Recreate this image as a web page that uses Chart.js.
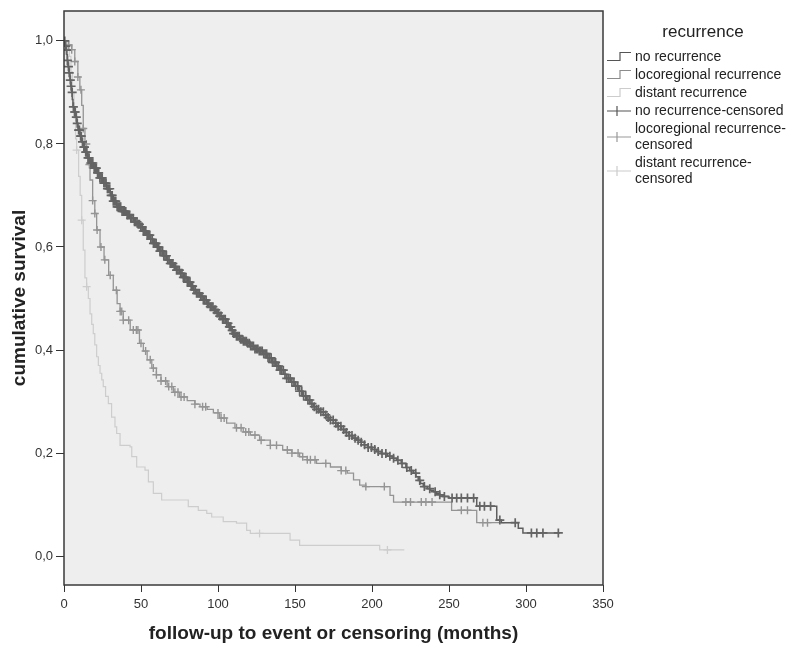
<!DOCTYPE html>
<html>
<head>
<meta charset="utf-8">
<title>cumulative survival by recurrence</title>
<script src="https://cdn.jsdelivr.net/npm/chart.js@4.4.1/dist/chart.umd.min.js"></script>
<style>
  html, body { margin: 0; padding: 0; background: #fff; }
  #chart { display: block; }
</style>
</head>
<body>
<canvas id="chart" width="790" height="648"></canvas>
<script>
// Kaplan-Meier steps: time (months) and survival after the drop at that time
const noRecTimes = [0, 0.6, 1.2, 1.8, 2.2, 2.6, 3.2, 3.9, 4.4, 5, 5.4, 5.8, 6.7, 7.6, 8.3, 9.1, 10.3, 11.5, 12.5, 13.6, 15.2, 16.9, 19, 21.2, 23.3, 25.5, 27.7, 30, 32, 34.2, 37, 40.7, 43, 45.5, 47.5, 49.4, 51.5, 53.5, 56, 58, 60, 62, 64.5, 66.7, 69, 71, 73, 75.3, 77.5, 80, 82, 84, 86, 88.3, 90.5, 93, 95, 97, 99, 101, 103, 105, 107, 108.5, 110, 112, 114, 116, 118.6, 121, 124, 126.5, 129.4, 132, 135, 137.5, 140.3, 142.5, 144.6, 147, 150, 152.5, 155, 157.5, 159.7, 162, 164, 166, 168.5, 170.5, 172.7, 175, 177.5, 180, 182.5, 185, 187.5, 190, 192.5, 195, 197.5, 200, 203, 206, 210, 213, 216, 219, 222, 224.5, 226.8, 228.5, 230, 231.5, 233.3, 236, 238, 240, 242, 244, 246, 250, 268, 281, 284, 295, 298, 322];
const noRecSurv = [1.0, 0.99, 0.982, 0.973, 0.962, 0.95, 0.938, 0.924, 0.912, 0.9, 0.886, 0.872, 0.862, 0.852, 0.84, 0.827, 0.815, 0.804, 0.794, 0.784, 0.773, 0.763, 0.753, 0.744, 0.734, 0.724, 0.713, 0.7, 0.689, 0.678, 0.669, 0.662, 0.656, 0.649, 0.644, 0.639, 0.631, 0.623, 0.615, 0.607, 0.6, 0.592, 0.583, 0.575, 0.568, 0.562, 0.555, 0.549, 0.541, 0.532, 0.524, 0.517, 0.51, 0.504, 0.497, 0.49, 0.484, 0.478, 0.472, 0.466, 0.46, 0.452, 0.445, 0.438, 0.432, 0.427, 0.421, 0.417, 0.413, 0.408, 0.402, 0.398, 0.393, 0.385, 0.376, 0.369, 0.361, 0.353, 0.345, 0.338, 0.33, 0.32, 0.311, 0.303, 0.296, 0.29, 0.285, 0.28, 0.274, 0.269, 0.264, 0.258, 0.252, 0.246, 0.24, 0.234, 0.229, 0.225, 0.221, 0.216, 0.211, 0.207, 0.203, 0.199, 0.194, 0.19, 0.186, 0.18, 0.172, 0.166, 0.161, 0.154, 0.147, 0.141, 0.135, 0.131, 0.128, 0.125, 0.122, 0.119, 0.116, 0.113, 0.097, 0.07, 0.065, 0.054, 0.045, 0.045];

const locoTimes = [0, 3, 5, 7, 9, 10.3, 11.5, 12.5, 13.6, 14.7, 15.8, 16.9, 18.6, 20, 21.2, 23.4, 26, 29, 32, 34.5, 36.4, 38.5, 43, 49, 51.5, 54, 57, 60, 63, 67, 71, 75, 80, 85, 88.3, 93, 97, 101, 105.6, 111, 116.4, 121, 127, 134, 142, 148, 153, 158, 164, 173, 180, 184, 188, 192, 196, 211.7, 214, 251.7, 268, 286];
const locoSurv = [1.0, 0.992, 0.983, 0.96, 0.93, 0.905, 0.875, 0.83, 0.8, 0.78, 0.76, 0.73, 0.69, 0.665, 0.633, 0.6, 0.575, 0.545, 0.516, 0.49, 0.475, 0.458, 0.439, 0.413, 0.398, 0.381, 0.365, 0.352, 0.34, 0.329, 0.318, 0.309, 0.302, 0.295, 0.29, 0.285, 0.278, 0.268, 0.258, 0.249, 0.241, 0.235, 0.225, 0.215, 0.206, 0.2, 0.193, 0.187, 0.18, 0.173, 0.166, 0.161, 0.148, 0.138, 0.135, 0.118, 0.105, 0.089, 0.065, 0.065];

const distTimes = [0, 2, 3.5, 4.5, 5.5, 6.5, 7.5, 8.2, 9.5, 10.5, 11.5, 12.5, 13.6, 14.7, 15.8, 16.9, 18, 19, 20, 21.2, 22.3, 23.4, 24.5, 25.5, 27, 28.8, 30.9, 33.1, 34.2, 36.4, 42.9, 44, 47.2, 52.6, 54.8, 58, 63.4, 80.7, 87.2, 92.7, 95.9, 103.4, 112, 118.6, 121, 146.8, 153, 205, 221];
const distSurv = [1.0, 0.99, 0.97, 0.94, 0.9, 0.85, 0.81, 0.788, 0.737, 0.7, 0.652, 0.594, 0.54, 0.523, 0.5, 0.47, 0.45, 0.432, 0.41, 0.387, 0.37, 0.355, 0.342, 0.329, 0.31, 0.296, 0.27, 0.251, 0.238, 0.215, 0.212, 0.193, 0.173, 0.167, 0.144, 0.122, 0.109, 0.096, 0.089, 0.083, 0.076, 0.067, 0.064, 0.05, 0.044, 0.031, 0.021, 0.012, 0.012];

// censoring times (months)
const noRecCensored = [0.5, 1.1, 1.6, 2.2, 2.9, 3.4, 4.1, 4.6, 5.3, 6.1, 6.9, 7.3, 8.0, 8.6, 9.5, 10.0, 10.8, 11.2, 12.0, 12.9, 13.3, 14.1, 14.8, 15.6, 16.3, 17.4, 18.1, 18.7, 19.6, 20.3, 21.0, 21.8, 22.5, 23.3, 24.1, 24.8, 25.9, 26.6, 27.3, 28.2, 28.9, 29.7, 30.6, 31.3, 32.0, 32.8, 33.6, 34.5, 35.3, 36.1, 36.8, 37.7, 38.5, 39.2, 40.1, 41.0, 41.7, 42.6, 43.4, 44.1, 45.0, 45.8, 46.5, 47.4, 48.2, 49.0, 49.9, 50.7, 51.5, 52.4, 53.1, 54.0, 54.8, 55.7, 56.4, 57.3, 58.1, 59.0, 59.8, 60.6, 61.5, 62.3, 63.0, 64.0, 64.8, 65.6, 66.5, 67.3, 68.2, 69.0, 69.9, 70.7, 71.6, 72.4, 73.1, 74.0, 74.9, 75.8, 76.6, 77.5, 78.3, 79.2, 80.1, 81.0, 81.8, 82.6, 83.5, 84.4, 85.3, 86.1, 87.0, 87.9, 88.8, 89.6, 90.5, 91.4, 92.3, 93.1, 94.0, 95.0, 95.8, 96.7, 97.6, 98.5, 99.4, 100.2, 101.1, 102.0, 103.0, 103.8, 104.7, 105.6, 106.5, 107.4, 108.3, 109.2, 110.1, 111.0, 112.0, 112.9, 113.8, 114.7, 115.6, 116.5, 117.5, 118.4, 119.3, 120.3, 121.2, 122.1, 123.0, 124.0, 125.0, 125.9, 126.8, 127.8, 128.7, 129.7, 130.6, 131.6, 132.5, 133.5, 134.5, 135.4, 136.4, 137.4, 138.3, 139.3, 140.3, 141.3, 142.4, 143.5, 144.6, 145.8, 146.9, 148.0, 149.3, 150.5, 151.8, 153.0, 154.4, 155.6, 157.0, 158.4, 159.6, 161.0, 162.5, 164.0, 165.3, 166.8, 168.4, 170.0, 171.5, 173.0, 174.8, 176.5, 178.0, 179.8, 181.5, 183.4, 185.2, 187.0, 189.0, 191.0, 193.0, 195.2, 197.5, 199.6, 201.8, 204.0, 206.5, 209.0, 211.6, 214.0, 216.8, 219.5, 222.6, 225.5, 228.4, 231.0, 234.0, 237.5, 241.0, 244.0, 247.0, 252.0, 255.0, 258.0, 262.0, 266.0, 270.0, 273.0, 277.0, 283.0, 293.0, 303.5, 307.0, 311.0, 321.0];
const locoCensored = [3, 5, 7, 9, 11, 12.5, 14.5, 16.5, 18.6, 20, 21.5, 24, 26.5, 30, 34, 36.5, 37.5, 38.5, 42, 45, 47, 48, 50, 53, 56, 58, 60, 63, 66, 68, 70, 72, 74, 76, 78, 85, 90, 92, 100, 102, 104, 112, 115, 118, 120, 124, 128, 134, 138, 145, 148, 152, 155, 158, 160, 163, 170, 180, 183, 196, 208, 222, 225, 232, 235, 239, 258, 262, 272, 275];
const distCensored = [3, 8.2, 11.5, 14.7, 127, 210];

const xTicks = [0, 50, 100, 150, 200, 250, 300, 350];
const yTicks = [0, 0.2, 0.4, 0.6, 0.8, 1.0];

const darkGray = "#5e5e5e";
const midGray = "#949494";
const lightGray = "#cdcdcd";

// survival value in effect at time t (last step at or before t)
function survAt(times, surv, t) {
  let s = surv[0];
  for (let i = 0; i < times.length; i++) {
    if (times[i] <= t) s = surv[i];
  }
  return s;
}

function stepLine(label, times, surv, color, width, order) {
  return {
    label,
    data: times.map((t, i) => ({ x: t, y: surv[i] })),
    borderColor: color,
    borderWidth: width,
    stepped: true,
    pointRadius: 0,
    fill: false,
    order,
  };
}

function censorMarks(label, censored, times, surv, color, order, radius = 4, width = 1.3) {
  return {
    label,
    data: censored.map((t) => ({ x: t, y: survAt(times, surv, t) })),
    showLine: false,
    pointStyle: "cross",
    pointRadius: radius,
    pointBorderWidth: width,
    borderColor: color,
    backgroundColor: color,
    order,
  };
}

// plot background and frame
const framePlugin = {
  id: "frame",
  beforeDraw(chart) {
    const { ctx, chartArea: a } = chart;
    ctx.save();
    ctx.fillStyle = "#eeeeee";
    ctx.fillRect(a.left, a.top, a.right - a.left, a.bottom - a.top);
    ctx.restore();
  },
  afterDraw(chart) {
    const { ctx, chartArea: a } = chart;
    ctx.save();
    ctx.strokeStyle = "#3a3a3a";
    ctx.lineWidth = 1.5;
    ctx.strokeRect(a.left, a.top, a.right - a.left, a.bottom - a.top);
    ctx.restore();
  },
};

// legend on the right: step glyphs for curves, crosses for censored marks
const legendRows = [
  { lines: ["no recurrence"], color: "#555555", kind: "step" },
  { lines: ["locoregional recurrence"], color: "#8c8c8c", kind: "step" },
  { lines: ["distant recurrence"], color: "#cccccc", kind: "step" },
  { lines: ["no recurrence-censored"], color: "#555555", kind: "cross" },
  { lines: ["locoregional recurrence-", "censored"], color: "#999999", kind: "cross" },
  { lines: ["distant recurrence-", "censored"], color: "#cccccc", kind: "cross" },
];

const legendPlugin = {
  id: "kmLegend",
  afterDraw(chart) {
    const ctx = chart.ctx;
    ctx.save();
    ctx.fillStyle = "#222";
    ctx.textBaseline = "middle";
    ctx.font = "17px 'Liberation Sans', Arial, sans-serif";
    ctx.textAlign = "center";
    ctx.fillText("recurrence", 703, 32);

    ctx.font = "14px 'Liberation Sans', Arial, sans-serif";
    ctx.textAlign = "left";
    let y = 57;
    legendRows.forEach((row) => {
      const mid = y + (row.lines.length - 1) * 8;
      ctx.strokeStyle = row.color;
      ctx.lineWidth = 1.2;
      ctx.beginPath();
      if (row.kind === "step") {
        ctx.moveTo(607, mid + 3.5);
        ctx.lineTo(620, mid + 3.5);
        ctx.lineTo(620, mid - 4.5);
        ctx.lineTo(631, mid - 4.5);
      } else {
        ctx.moveTo(607, mid);
        ctx.lineTo(631, mid);
        ctx.moveTo(617, mid - 5);
        ctx.lineTo(617, mid + 5);
      }
      ctx.stroke();
      row.lines.forEach((txt, i) => {
        ctx.fillText(txt, 635, y + i * 16);
      });
      y += row.lines.length * 16 + 2;
    });
    ctx.restore();
  },
};

const ctx = document.getElementById("chart").getContext("2d");
const chart = new Chart(ctx, {
  type: "line",
  data: {
    datasets: [
      censorMarks("no recurrence-censored", noRecCensored, noRecTimes, noRecSurv, "#646464", 0, 4.5, 1.7),
      stepLine("no recurrence", noRecTimes, noRecSurv, darkGray, 1.5, 1),
      censorMarks("locoregional recurrence-censored", locoCensored, locoTimes, locoSurv, midGray, 2, 4, 1.4),
      stepLine("locoregional recurrence", locoTimes, locoSurv, midGray, 1.3, 3),
      censorMarks("distant recurrence-censored", distCensored, distTimes, distSurv, lightGray, 4),
      stepLine("distant recurrence", distTimes, distSurv, lightGray, 1.2, 5),
    ],
  },
  options: {
    responsive: false,
    animation: false,
    devicePixelRatio: 1,
    layout: { padding: { top: 11, right: 187, left: 0, bottom: 0 } },
    plugins: {
      legend: { display: false },
      tooltip: { enabled: false },
    },
    scales: {
      x: {
        type: "linear",
        min: 0,
        max: 350,
        afterBuildTicks: (scale) => {
          scale.ticks = xTicks.map((v) => ({ value: v }));
        },
        afterFit: (scale) => {
          scale.height = 63;
        },
        border: { display: false },
        grid: { drawOnChartArea: false, drawTicks: true, tickLength: 7, color: "#333", lineWidth: 1 },
        ticks: {
          color: "#333",
          padding: 5,
          maxRotation: 0,
          font: { family: "'Liberation Sans', Arial, sans-serif", size: 13 },
        },
        title: {
          display: true,
          text: "follow-up to event or censoring (months)",
          color: "#222",
          padding: { top: 0, bottom: 3 },
          font: { family: "'Liberation Sans', Arial, sans-serif", size: 19, weight: "bold" },
        },
      },
      y: {
        type: "linear",
        min: -0.056,
        max: 1.058,
        afterBuildTicks: (scale) => {
          scale.ticks = yTicks.map((v) => ({ value: v }));
        },
        afterFit: (scale) => {
          scale.width = 64;
        },
        border: { display: false },
        grid: { drawOnChartArea: false, drawTicks: true, tickLength: 8, color: "#333", lineWidth: 1 },
        ticks: {
          color: "#333",
          padding: 3,
          font: { family: "'Liberation Sans', Arial, sans-serif", size: 13 },
          callback: (v) => v.toFixed(1).replace(".", ","),
        },
        title: {
          display: true,
          text: "cumulative survival",
          color: "#222",
          padding: { top: 8, bottom: 0 },
          font: { family: "'Liberation Sans', Arial, sans-serif", size: 19, weight: "bold" },
        },
      },
    },
  },
  plugins: [framePlugin, legendPlugin],
});
</script>
</body>
</html>
